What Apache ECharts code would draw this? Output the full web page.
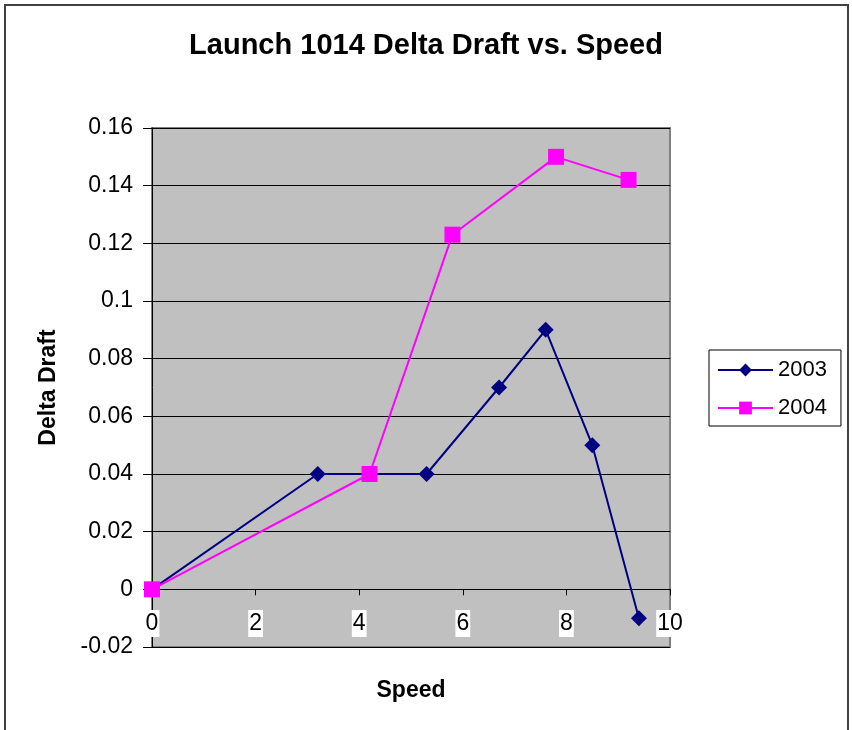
<!DOCTYPE html>
<html>
<head>
<meta charset="utf-8">
<script src="https://cdn.jsdelivr.net/npm/echarts@6/dist/echarts.min.js"></script>
<style>
    html, body { margin: 0; padding: 0; background: #fff; }
    #chart { width: 852px; height: 730px; }
</style>
</head>
<body>
<div id="chart"></div>
<script>
// speed / delta draft pairs
let speed2003 = [0, 3.2, 5.3, 6.7, 7.6, 8.5, 9.4]
let draft2003 = [0, 0.04, 0.04, 0.07, 0.09, 0.05, -0.01]
let speed2004 = [0, 4.2, 5.8, 7.8, 9.2]
let draft2004 = [0, 0.04, 0.123, 0.15, 0.142]
let seriesNames = ['2003', '2004']

function pairs(xs, ys) {
    let out = []
    for (let i = 0; i < xs.length; i++) {
        out.push([xs[i], ys[i]])
    }
    return out
}

let font = '"Liberation Sans", Arial, sans-serif'
let chart = echarts.init(document.getElementById('chart'))
let option = {
    animation: false,
    backgroundColor: '#fff',
    textStyle: { fontFamily: font },
    title: {
        text: 'Launch 1014 Delta Draft vs. Speed',
        left: 'center',
        top: 26,
        textStyle: { fontSize: 29, fontWeight: 'bold', color: '#000', fontFamily: font }
    },
    graphic: [{
        type: 'rect',
        shape: { x: 5, y: 5, width: 843, height: 780 },
        style: { fill: 'none', stroke: '#404040', lineWidth: 2 },
        silent: true
    }],
    legend: {
        orient: 'vertical',
        left: 709,
        top: 350,
        padding: [9, 14, 7, 8],
        itemWidth: 55,
        itemHeight: 16,
        itemGap: 16,
        borderColor: '#000',
        borderWidth: 1,
        data: seriesNames,
        textStyle: { fontSize: 22, color: '#000', fontFamily: font }
    },
    grid: {
        left: 152,
        right: 182,
        top: 128,
        bottom: 83,
        outerBoundsMode: 'none',
        containLabel: false,
        show: true,
        backgroundColor: '#c0c0c0',
        borderColor: '#808080',
        borderWidth: 2
    },
    xAxis: {
        type: 'value',
        min: 0,
        max: 10,
        interval: 2,
        name: 'Speed',
        nameLocation: 'middle',
        nameGap: 32,
        nameTextStyle: { fontSize: 23, fontWeight: 'bold', color: '#000' },
        axisLine: { onZero: true, onZeroAxisIndex: 0, lineStyle: { color: '#000', width: 1 } },
        axisTick: { show: true, length: 6, lineStyle: { color: '#000' } },
        splitLine: { show: false },
        axisLabel: {
            fontSize: 23,
            color: '#000',
            margin: -37,
            backgroundColor: '#fff',
            padding: [2, 1]
        }
    },
    yAxis: {
        type: 'value',
        min: -0.02,
        max: 0.16,
        interval: 0.02,
        name: 'Delta Draft',
        nameLocation: 'middle',
        nameGap: 92,
        nameTextStyle: { fontSize: 23, fontWeight: 'bold', color: '#000' },
        axisLine: { show: true, onZero: false, lineStyle: { color: '#000', width: 1 } },
        axisTick: { show: true, length: 9, lineStyle: { color: '#000' } },
        splitLine: { show: true, lineStyle: { color: '#000', width: 1 } },
        axisLabel: {
            fontSize: 23,
            color: '#000',
            margin: 19,
            formatter: function (v) {
                return parseFloat(v.toFixed(2)).toString()
            }
        }
    },
    series: [{
        name: seriesNames[0],
        type: 'line',
        data: pairs(speed2003, draft2003),
        symbol: 'diamond',
        symbolSize: 16,
        color: '#000080',
        lineStyle: { color: '#000080', width: 2 },
        itemStyle: { color: '#000080' },
        z: 3
    }, {
        name: seriesNames[1],
        type: 'line',
        data: pairs(speed2004, draft2004),
        symbol: 'rect',
        symbolSize: 16,
        color: '#ff00ff',
        lineStyle: { color: '#ff00ff', width: 2 },
        itemStyle: { color: '#ff00ff' },
        z: 4
    }]
}
chart.setOption(option)
</script>
</body>
</html>
